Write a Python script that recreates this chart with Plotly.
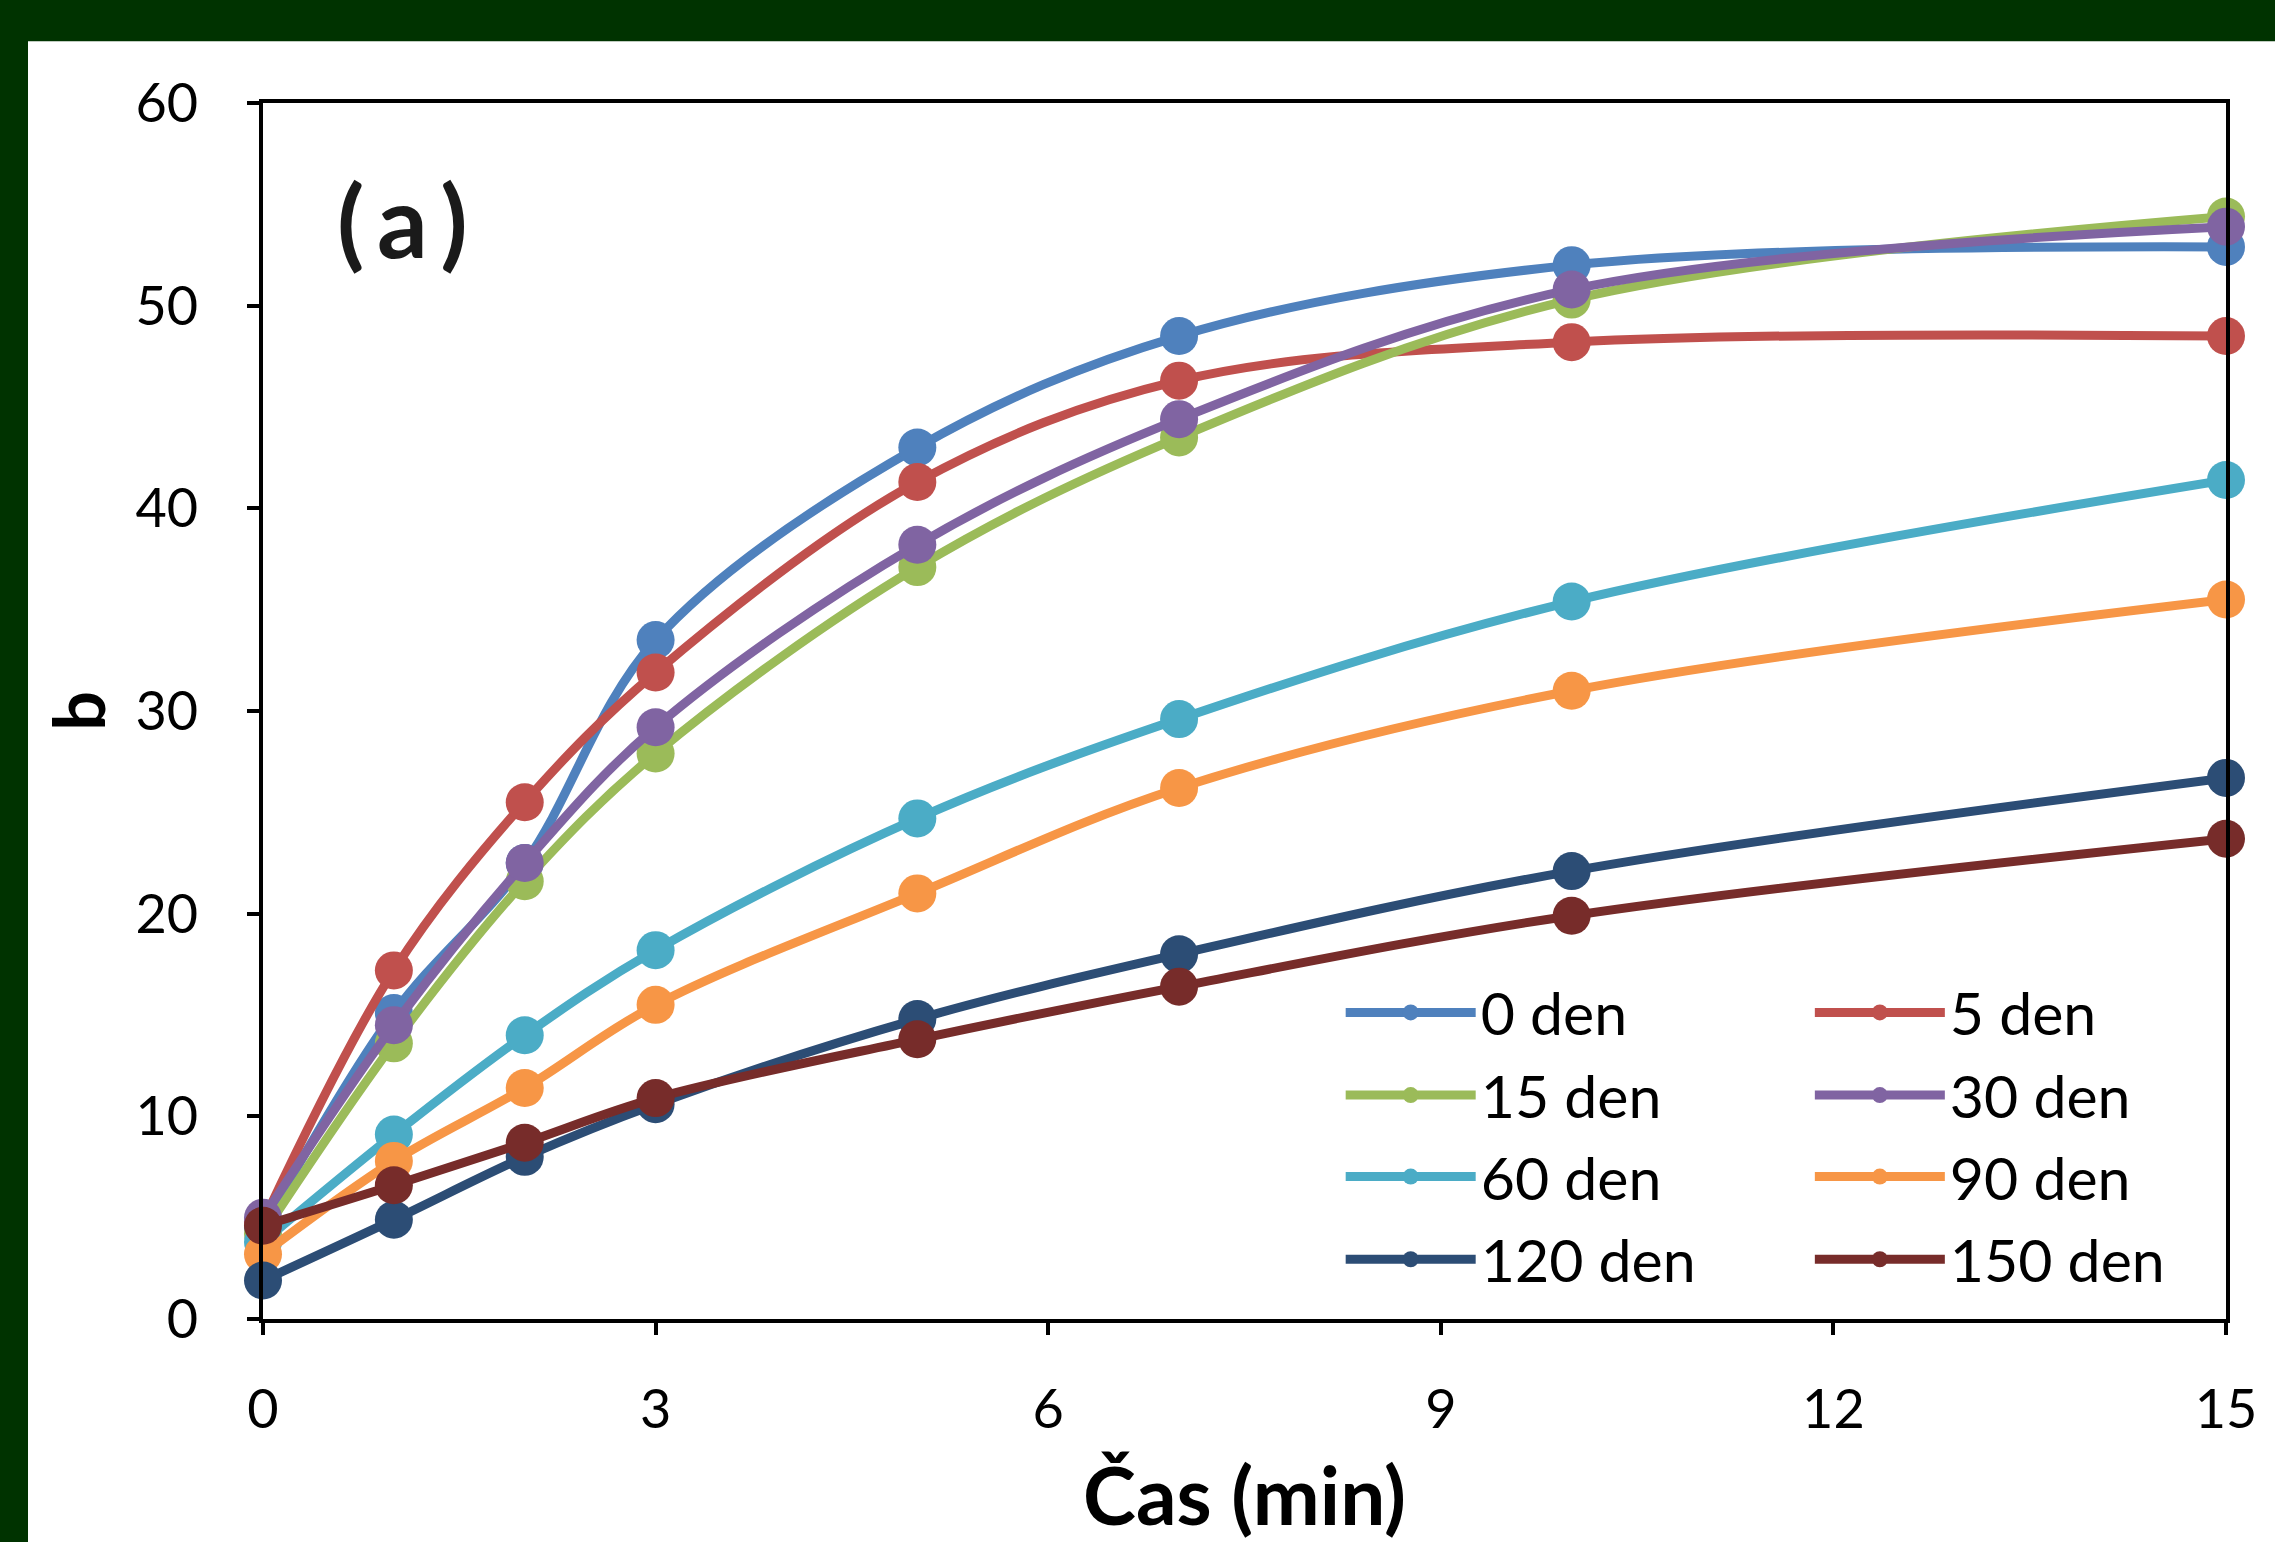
import plotly.graph_objects as go

time_min = [0, 1, 2, 3, 5, 7, 10, 15]

series_names = ["0 den", "5 den", "15 den", "30 den", "60 den", "90 den", "120 den", "150 den"]
b_0 = [4.5, 15.1, 22.5, 33.5, 43.0, 48.5, 52.0, 52.9]
b_5 = [4.8, 17.2, 25.5, 31.9, 41.3, 46.3, 48.2, 48.5]
b_15 = [4.2, 13.6, 21.6, 27.9, 37.1, 43.5, 50.3, 54.4]
b_30 = [5.0, 14.5, 22.5, 29.2, 38.2, 44.4, 50.8, 53.9]
b_60 = [3.8, 9.1, 14.0, 18.2, 24.7, 29.6, 35.4, 41.4]
b_90 = [3.2, 7.8, 11.4, 15.5, 21.0, 26.2, 31.0, 35.5]
b_120 = [1.9, 4.9, 8.0, 10.6, 14.8, 18.0, 22.1, 26.7]
b_150 = [4.6, 6.6, 8.7, 10.9, 13.8, 16.4, 19.9, 23.7]
series_values = [b_0, b_5, b_15, b_30, b_60, b_90, b_120, b_150]

colors = ["#4F81BD", "#C0504D", "#9BBB59", "#8064A2", "#4BACC6", "#F79646", "#2C4D75", "#772C2A"]

x_ticks = [0, 3, 6, 9, 12, 15]
y_ticks = [0, 10, 20, 30, 40, 50, 60]

FONT = "Lato, Carlito, Calibri, 'Open Sans', sans-serif"

fig = go.Figure()
legend_ids = ["legend", "legend2", "legend3", "legend4", "legend5", "legend6", "legend7", "legend8"]
for i, (name, vals, col) in enumerate(zip(series_names, series_values, colors)):
    fig.add_trace(go.Scatter(
        x=time_min, y=vals, name=name, mode="lines+markers",
        line=dict(color=col, width=9, shape="spline", smoothing=1.0),
        marker=dict(color=col, size=38, line=dict(width=0)),
        legend=legend_ids[i], cliponaxis=False,
    ))

# legend layout: 2 columns x 4 rows
row_y = [0.252, 0.184, 0.117, 0.049]
col_x = [0.549, 0.788]
legend_layouts = {}
for i, lid in enumerate(legend_ids):
    r, c = divmod(i, 2)
    legend_layouts[lid] = dict(
        x=col_x[c], y=row_y[r], xanchor="left", yanchor="middle",
        bgcolor="rgba(0,0,0,0)", borderwidth=0,
        font=dict(family=FONT, size=59, color="#000000"),
        itemsizing="trace", itemwidth=130,
    )

fig.update_layout(
    width=2275, height=1542,
    margin=dict(l=263, r=49, t=103, b=217),
    paper_bgcolor="#FFFFFF", plot_bgcolor="#FFFFFF",
    font=dict(family=FONT, color="#000000"),
    showlegend=True,
    **legend_layouts,
    xaxis=dict(
        range=[0, 15], tickvals=x_ticks, showgrid=False, zeroline=False,
        showline=True, linecolor="#000000", linewidth=4, mirror=True,
        ticks="outside", ticklen=12, tickwidth=4, tickcolor="#000000",
        tickfont=dict(family=FONT, size=54, color="#000000"),
        ticklabelstandoff=28,
        title=dict(text="<b>Čas (min)</b>", font=dict(family=FONT, size=80, color="#000000"), standoff=34),
    ),
    yaxis=dict(
        range=[0, 60], tickvals=y_ticks, showgrid=False, zeroline=False,
        showline=True, linecolor="#000000", linewidth=4, mirror=True,
        ticks="outside", ticklen=12, tickwidth=4, tickcolor="#000000",
        tickfont=dict(family=FONT, size=54, color="#000000"),
        ticklabelstandoff=38,
        title=dict(text="<b>b</b>", font=dict(family=FONT, size=70, color="#000000"), standoff=8),
    ),
    shapes=[
        dict(type="rect", xref="paper", yref="paper", x0=-0.2, x1=1.2, y0=(1325 - 41) / 1222, y1=1.2,
             fillcolor="#003300", line=dict(width=0), layer="below"),
        dict(type="rect", xref="paper", yref="paper", x0=-0.2, x1=-(263 - 28) / 1963, y0=-0.3, y1=1.2,
             fillcolor="#003300", line=dict(width=0), layer="below"),
    ],
    annotations=[
        dict(text="<b>(\u2009a\u2009)</b>", xref="paper", yref="paper", x=(402 - 263) / 1963, y=(1325 - 220) / 1222,
             xanchor="center", yanchor="middle", showarrow=False,
             font=dict(family=FONT, size=100, color="#1a1a1a")),
    ],
)

fig.write_html("out.html", config={"displayModeBar": False},
               post_script="document.body.style.margin='0px';")
